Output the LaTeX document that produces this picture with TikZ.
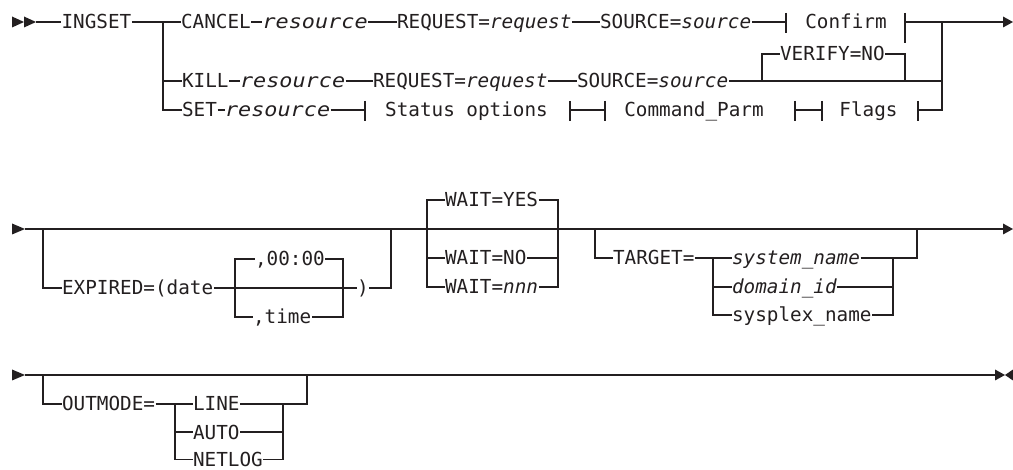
\documentclass[tikz,border=0pt]{standalone}
\usepackage{graphicx}
\usepackage{fontspec}
\setmonofont{DejaVu Sans Mono}
\definecolor{ink}{HTML}{231F20}
\newcommand{\resrc}{\scalebox{1.13}[1]{\itshape resource}}
\begin{document}
\begin{tikzpicture}[x=1pt,y=-1pt,line width=1.2pt,draw=ink,
  t/.style={inner xsep=0pt,inner ysep=0pt,anchor=west,text height=15pt,text depth=1pt,text=ink,
    font=\ttfamily\fontsize{19.3}{20}\selectfont},
  tc/.style={t,anchor=center}]
\useasboundingbox (0,0) rectangle (1013,470);
% ---------------- Row 1 ----------------
\fill[ink] (12,16.5) -- (24,22) -- (12,27.5) -- cycle;
\fill[ink] (24,16.5) -- (36,22) -- (24,27.5) -- cycle;
\coordinate (r1s) at (36,22);
\node[t] (ingset) at (61,22) {INGSET};
\coordinate (j1) at (163,22);
\node[t] (cancel) at (180.5,22) {CANCEL};
\node[t] (res1) at (262,22) {\resrc};
\node[t] (req1) at (396.5,22) {REQUEST=\textit{request}};
\node[t] (src1) at (599.5,22) {SOURCE=\textit{source}};
\coordinate (cfL) at (786,22);
\node[tc] (confirm) at (846,22) {Confirm};
\coordinate (cfR) at (905,22);
\coordinate (j2) at (942,22);
\coordinate (e1) at (1003,22);
\fill[ink] (1003,16.5) -- (1013,22) -- (1003,27.5) -- cycle;
\draw (r1s) -- (ingset.west);
\draw (ingset.east) -- (j1) -- (cancel.west);
\draw (cancel.east) -- (res1.west);
\draw (res1.east) -- (req1.west);
\draw (req1.east) -- (src1.west);
\draw (src1.east) -- (cfL);
\draw (786,13) -- (786,33);
\draw (905,13) -- (905,43);
\draw (cfR) -- (e1);
% VERIFY=NO
\node[t] (verify) at (779.5,54) {VERIFY=NO};
\coordinate (vL) at (762,81);
\coordinate (vR) at (905,81);
\draw (vL) |- (verify.west);
\draw (verify.east) -| (vR);
% KILL row
\node[t] (kill) at (181.5,81) {KILL};
\node[t] (res2) at (239.5,81) {\resrc};
\node[t] (req2) at (372.5,81) {REQUEST=\textit{request}};
\node[t] (src2) at (576.5,81) {SOURCE=\textit{source}};
\draw (j1 |- kill.west) -- (kill.west);
\draw (kill.east) -- (res2.west);
\draw (res2.east) -- (req2.west);
\draw (req2.east) -- (src2.west);
\draw (src2.east) -- (j2 |- src2.west);
% SET row
\node[t] (set) at (181.5,110) {SET};
\node[t] (res3) at (224.5,110) {\resrc};
\coordinate (soL) at (365,110);
\node[tc] (status) at (466.5,110) {Status options};
\coordinate (soR) at (570,110);
\coordinate (cpL) at (605,110);
\node[tc] (cmd) at (694,110) {Command\_Parm};
\coordinate (cpR) at (795,110);
\coordinate (flL) at (822,110);
\node[tc] (flags) at (868.5,110) {Flags};
\coordinate (flR) at (918,110);
\draw (j1) |- (set.west);
\draw (set.east) -- (res3.west);
\draw (res3.east) -- (soL);
\draw (soR) -- (cpL);
\draw (cpR) -- (flL);
\draw (flR) -| (j2);
\foreach \x in {365,570,605,795,822,918} \draw (\x,101) -- (\x,121);
% ---------------- Row 2 ----------------
\fill[ink] (12,223.5) -- (25,229) -- (12,234.5) -- cycle;
\coordinate (r2s) at (25,229);
\coordinate (e2) at (1003,229);
\fill[ink] (1003,223.5) -- (1013,229) -- (1003,234.5) -- cycle;
\draw (r2s) -- (e2);
\coordinate (b1) at (43,229);
\node[t] (exp) at (61.5,288) {EXPIRED=(date};
\coordinate (dL) at (235,288);
\coordinate (dR) at (343,288);
\node[t] (t0) at (254.5,259) {,00:00};
\node[t] (tt) at (252.5,317) {,time};
\node[t] (rp) at (356.5,288) {)};
\coordinate (b2) at (391,229);
\draw (b1) |- (exp.west);
\draw (exp.east) -- (rp.west);
\draw (t0.west) -| (dL |- tt.west) -- (tt.west);
\draw (t0.east) -| (dR |- tt.east) -- (tt.east);
\draw (rp.east) -| (b2);
% WAIT
\node[t] (wy) at (444.5,200) {WAIT=YES};
\node[t] (wn) at (444.5,258) {WAIT=NO};
\node[t] (wx) at (444.5,287) {WAIT=\textit{nnn}};
\coordinate (wL) at (427,229);
\coordinate (wR) at (558,229);
\draw (wy.west) -| (wL |- wx.west) -- (wx.west);
\draw (wL |- wn.west) -- (wn.west);
\draw (wy.east) -| (wR |- wx.east) -- (wx.east);
\draw (wn.east) -- (wR |- wn.east);
% TARGET
\coordinate (b3) at (595,229);
\node[t] (tgt) at (612.5,258) {TARGET=};
\coordinate (tL) at (713,258);
\node[t] (sn) at (731.5,258) {\itshape system\_name};
\node[t] (di) at (731.5,287) {\itshape domain\_id};
\node[t] (sp) at (731.5,315) {sysplex\_name};
\coordinate (tR) at (893,258);
\coordinate (b4) at (917,229);
\draw (b3) |- (tgt.west);
\draw (tgt.east) -- (sn.west);
\draw (tL) |- (sp.west);
\draw (tL |- di.west) -- (di.west);
\draw (sn.east) -| (b4);
\draw (sp.east) -| (tR);
\draw (di.east) -- (tR |- di.east);
% ---------------- Row 3 ----------------
\fill[ink] (12,369.5) -- (25,375) -- (12,380.5) -- cycle;
\coordinate (r3s) at (25,375);
\coordinate (e3) at (995,375);
\fill[ink] (995,369.5) -- (1005,375) -- (995,380.5) -- cycle;
\fill[ink] (1013,369.5) -- (1005,375) -- (1013,380.5) -- cycle;
\draw (r3s) -- (e3);
\coordinate (b5) at (43,375);
\node[t] (om) at (61.5,404) {OUTMODE=};
\coordinate (oL) at (175,404);
\node[t] (ln) at (192.5,404) {LINE};
\node[t] (au) at (192.5,432) {AUTO};
\node[t] (nl) at (192.5,459.5) {NETLOG};
\coordinate (oR) at (283,404);
\coordinate (b6) at (307,375);
\draw (b5) |- (om.west);
\draw (om.east) -- (ln.west);
\draw (oL) |- (nl.west);
\draw (oL |- au.west) -- (au.west);
\draw (ln.east) -| (b6);
\draw (nl.east) -| (oR);
\draw (au.east) -- (oR |- au.east);
\end{tikzpicture}
\end{document}
